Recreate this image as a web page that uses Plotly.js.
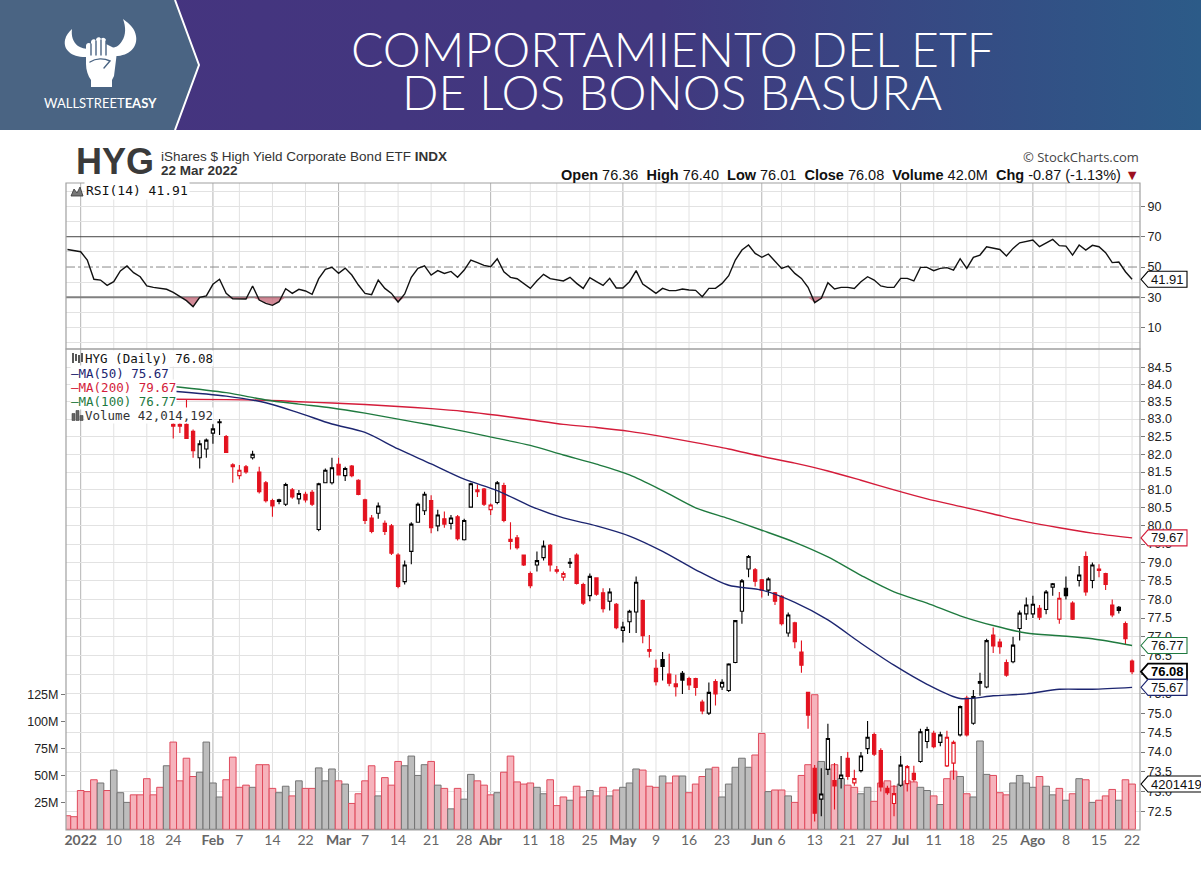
<!DOCTYPE html>
<html>
<head>
<meta charset="utf-8">
<script src="https://cdn.plot.ly/plotly-3.0.1.min.js"></script>
<style>
html,body{margin:0;padding:0;background:#fff;}
#wrap{position:relative;width:1201px;height:872px;overflow:hidden;background:#fff;}
#banner{position:absolute;left:0;top:0;z-index:0;}
#chart{position:absolute;left:0;top:0;width:1201px;height:872px;z-index:1;}
</style>
</head>
<body>
<div id="wrap">
<svg id="banner" width="1201" height="130" viewBox="0 0 1201 130">
  <defs>
    <linearGradient id="bg" x1="0" x2="1" y1="0" y2="0">
      <stop offset="0" stop-color="#46337f"/>
      <stop offset="0.55" stop-color="#41387f"/>
      <stop offset="1" stop-color="#2c5b88"/>
    </linearGradient>
  </defs>
  <rect x="0" y="0" width="1201" height="130" fill="url(#bg)"/>
  <path d="M0,0 L175,0 L199,65 L175,130 L0,130 Z" fill="#4a6483"/>
  <path d="M175,0 L199,65 L175,130" fill="none" stroke="#ffffff" stroke-width="2"/>
  <g fill="#ffffff">
    <path d="M88,57 C72,58 63,50 65,40 C66,35 69,32 72,29 C71,36 73,42 78,46 C81,48 85,49 89,49 Z"/>
    <path d="M113,56 C129,57 138,47 136,36 C135,29 130,24 123,19 C126,27 126,35 122,41 C119,46 115,48 111,48 Z"/>
    <path d="M86,52 L86,46 C86,43 89,42 91,44 L91,42 C91,39 95,38 96,41 L96,40 C96,37 100,36 101,39 L101,40 C101,37 105,37 106,40 L106,44 L114,48 C117,50 117,54 116,60 L114,76 L112,80 L112,87 L91,87 L91,80 C88,76 86,70 86,64 Z"/>
  </g>
  <g stroke="#4a6483" stroke-width="1.4" fill="none" stroke-linecap="round">
    <path d="M91,44 L91,55 M96,41 L96,55 M101,40 L101,55 M106,41 L106,55"/>
    <path d="M90,62 C96,58 104,58 110,61 L104,68"/>
  </g>
</svg>
<div id="chart"></div>
</div>
<script>
// ---------------- DATA ----------------
// trading-day index: 0 = 3 Jan 2022; volume & RSI start at index -2 (30 Dec 2021)
const volM = [
  12.6, 11.7, 36, 35, 46, 43, 36, 55, 34, 25,
  32, 32, 47, 32, 39, 59, 81, 45, 66, 49,
  53, 81, 43, 30, 46, 67, 39, 41, 39, 60,
  60, 38, 34, 40, 31, 45, 38, 38, 57, 45,
  56, 45, 42, 24, 33, 45, 59, 31, 48, 41,
  63, 59, 68, 50, 60, 63, 41, 38, 19, 38,
  28, 51, 45, 41, 32, 34, 53, 68, 44, 42,
  43, 39, 33, 46, 22, 30, 27, 40, 30, 36,
  31, 39, 31, 36.5, 39, 43, 56, 55, 40, 39,
  49.5, 43, 49.5, 49.5, 34, 42, 49, 56, 57.6, 30,
  42, 57.6, 66, 57.6, 69, 89, 35, 36.5, 36.5, 31,
  25, 50, 60, 125, 63, 56, 60, 47, 41, 39,
  33, 39, 26, 43, 45, 40, 42, 45, 44, 39,
  36, 31, 23, 47, 54, 49, 33, 30, 82, 51,
  50, 34, 32, 43, 50, 43, 39, 49, 40, 32,
  38, 27, 33, 47, 46, 25, 27, 31, 37, 27,
  46, 42.014192
];
// d = close below previous close (red), u = otherwise (black/gray)
const volDir = "ddddduduuudddddu" +
  "dddduuuudd" + "dduddduudu" + "dduuududdd" + "duddduuuud" + "ududuudddu" +
  "ddddduuddd" + "uddudduduu" + "uddduddudd" + "duduuuuudd" + "uddudddduu" +
  "dudduudddd" + "udduududdu" + "duuuddduuu" + "uduudududu" + "dddudd";

const rsi14 = [
  61.6, 60.8, 60.1, 54.6, 41.9, 41.4, 37.9, 40.3, 47.4, 50.7,
  46.3, 43.6, 37.5, 36.6, 35.7, 35.3, 33.3, 30.4, 27.8, 23.8,
  30, 30.9, 38.6, 41.9, 32.6, 29.1, 29.1, 28.9, 37.5, 28.2,
  26, 24.7, 27.1, 35.7, 32.6, 35.3, 34.2, 32, 42.3, 48.5,
  49.8, 45.8, 49.3, 44.7, 38.1, 32.6, 31.8, 41.4, 35.9, 32.6,
  26.9, 32.2, 43.2, 49.1, 50.7, 44.7, 47.6, 45.8, 47.1, 43.2,
  48, 54.6, 52.9, 51.1, 50.2, 55.5, 46.9, 43.2, 42.3, 38.8,
  35.9, 40.9, 45.2, 42.3, 41.4, 40.8, 43.2, 39.2, 35.9, 43,
  40.3, 37.9, 42.5, 36.2, 36.2, 40.3, 47.6, 38.8, 35.7, 32.6,
  35.9, 34.4, 34.4, 35.5, 34.8, 34.6, 30.4, 35.9, 35.9, 39.2,
  44.3, 54.6, 61.2, 64.5, 59, 56.4, 58.6, 53.5, 49.1, 50.7,
  45.8, 42.5, 36.6, 26.5, 29.3, 39.7, 35.5, 36.6, 36.6, 35.9,
  40.3, 43.6, 41.4, 37.5, 36.6, 36.6, 42.5, 42.5, 40.8, 49.8,
  49.8, 47.6, 49.1, 49.6, 48, 55.5, 49.1, 56.4, 57.9, 63.4,
  62.3, 61.6, 57.3, 62.3, 66, 67.1, 67.8, 63.4, 66, 68.2,
  64.1, 63.8, 57.9, 64.5, 61.2, 64.3, 63.4, 59.5, 52.9, 53.3,
  46.9, 41.91
];

// candles visible from index 14 (24 Jan 2022)
const candleStart = 14;
const openP = [
  82.85, 82.85, 82.85, 82.65, 81.9, 82.15, 82.6, 82.9, 82.5, 81.7,
  81.4, 81.65, 81.9, 81.5, 81.2, 80.7, 80.72, 80.6, 81.0, 80.75,
  80.88, 80.93, 79.9, 81.2, 81.2, 81.72, 81.4, 81.67, 81.27, 80.72,
  80.22, 80.35, 80.07, 80.0, 79.2, 78.48, 79.3, 80.1, 80.42, 80.7,
  80.0, 80.2, 80.07, 80.25, 79.62, 80.52, 81.0, 81.02, 80.45, 80.65,
  81.12, 79.63, 79.67, 79.2, 78.7, 78.93, 79.13, 79.47, 78.8, 78.6,
  79.0, 79.2, 78.4, 78.1, 78.58, 78.18, 77.95, 77.87, 77.17, 77.4,
  77.66, 77.97, 76.66, 76.17, 76.4, 76.02, 75.76, 76.04, 75.9, 75.9,
  75.29, 75.0, 75.82, 75.68, 75.59, 76.32, 77.68, 78.82, 78.8, 78.53,
  78.25, 78.18, 78.08, 77.1, 77.37, 76.6, 75.54, 73.59, 72.81, 73.56,
  73.28, 73.33, 73.84, 73.22, 73.53, 74.09, 74.45, 74.04, 73.08, 72.7,
  73.16, 73.2, 73.46, 73.76, 74.27, 74.48, 74.25, 73.65, 73.72, 74.44,
  75.39, 74.74, 75.82, 75.68, 77.05, 76.86, 76.32, 76.34, 77.22, 77.61,
  77.61, 77.76, 77.73, 78.33, 77.47, 78.3, 77.9, 78.51, 79.16, 78.51,
  78.82, 78.7, 77.85, 77.79, 77.35, 76.36
];
const highP = [
  82.9, 82.9, 83.55, 82.7, 82.4, 82.45, 82.85, 83.0, 82.55, 81.75,
  81.7, 81.7, 82.1, 81.65, 81.25, 80.75, 80.75, 81.2, 81.05, 81.0,
  80.95, 81.0, 81.2, 81.6, 81.9, 81.9, 81.65, 81.7, 81.3, 80.75,
  80.3, 80.65, 80.15, 80.05, 79.25, 79.05, 80.1, 80.65, 80.95, 80.85,
  80.45, 80.4, 80.3, 80.3, 80.2, 81.2, 81.15, 81.05, 80.62, 81.25,
  81.2, 80.1, 79.75, 79.2, 78.75, 79.3, 79.6, 79.5, 78.9, 78.75,
  79.12, 79.25, 78.45, 78.7, 78.6, 78.3, 78.3, 77.9, 77.4, 77.72,
  78.62, 78.0, 77.05, 76.4, 76.6, 76.55, 76.0, 76.1, 75.95, 75.92,
  75.35, 75.8, 75.88, 75.88, 76.3, 77.45, 78.55, 79.2, 78.85, 78.55,
  78.6, 78.2, 78.12, 77.65, 77.4, 76.9, 75.55, 73.67, 73.59, 74.73,
  73.72, 73.9, 74.0, 73.55, 74.0, 74.8, 74.5, 74.1, 73.15, 73.16,
  73.9, 73.67, 73.65, 74.6, 74.65, 74.55, 74.52, 74.55, 74.3, 75.2,
  75.45, 75.6, 76.05, 76.95, 77.25, 76.95, 76.4, 77.0, 77.7, 78.05,
  78.1, 77.85, 78.25, 78.44, 78.2, 78.62, 77.95, 78.9, 79.3, 79.0,
  78.95, 78.72, 78.0, 77.82, 77.41, 76.40
];
const lowP = [
  82.45, 82.6, 82.45, 81.9, 81.6, 81.9, 82.3, 82.55, 82.05, 81.2,
  81.3, 81.45, 81.85, 80.9, 80.65, 80.25, 80.6, 80.55, 80.75, 80.6,
  80.65, 80.55, 79.85, 81.2, 81.15, 81.4, 81.25, 81.35, 80.85, 80.05,
  79.8, 80.2, 79.75, 79.2, 78.3, 78.4, 78.95, 80.1, 80.3, 79.8,
  79.85, 79.95, 79.9, 79.6, 79.6, 80.5, 80.8, 80.55, 80.3, 80.6,
  80.1, 79.35, 79.35, 78.9, 78.3, 78.75, 79.05, 78.75, 78.7, 78.5,
  78.85, 78.4, 77.85, 77.95, 78.1, 77.65, 77.7, 77.2, 76.85, 77.1,
  77.1, 76.83, 76.45, 75.72, 75.85, 75.7, 75.43, 75.5, 75.6, 75.45,
  74.97, 74.95, 75.2, 75.6, 75.55, 76.3, 77.35, 78.6, 78.35, 78.05,
  78.1, 77.85, 77.3, 77.0, 76.7, 76.05, 74.6, 72.25, 72.38, 73.42,
  72.55, 73.08, 73.3, 73.15, 73.48, 73.95, 73.9, 73.0, 72.92, 72.38,
  73.12, 73.0, 73.25, 73.73, 74.1, 74.1, 74.15, 73.62, 73.3, 74.4,
  74.4, 74.7, 75.45, 75.65, 76.57, 76.55, 75.95, 76.3, 76.9, 77.45,
  77.5, 77.45, 77.6, 78.1, 77.35, 78.0, 77.45, 78.35, 78.1, 78.3,
  78.6, 78.25, 77.52, 77.62, 76.8, 76.01
];
const closeP = [
  82.8, 82.8, 82.45, 82.1, 82.3, 82.4, 82.72, 82.92, 82.05, 81.65,
  81.55, 81.5, 82.0, 80.95, 80.7, 80.55, 80.68, 81.15, 80.8, 80.9,
  80.72, 80.6, 81.17, 81.55, 81.62, 81.42, 81.6, 81.4, 80.87, 80.15,
  79.85, 80.55, 79.85, 79.25, 78.35, 78.93, 80.05, 80.6, 80.88, 79.95,
  80.3, 80.05, 80.22, 79.65, 80.15, 81.17, 80.95, 80.6, 80.58, 81.2,
  80.15, 79.57, 79.4, 78.93, 78.37, 79.05, 79.45, 78.93, 78.76, 78.7,
  78.98, 78.43, 77.9, 78.62, 78.14, 77.75, 78.2, 77.24, 77.26, 77.68,
  78.46, 77.03, 76.62, 75.82, 76.22, 75.78, 75.69, 75.86, 75.73, 75.67,
  75.06, 75.54, 75.5, 75.8, 76.28, 77.43, 78.5, 79.16, 78.49, 78.25,
  78.55, 77.95, 77.35, 77.58, 76.87, 76.25, 74.95, 72.46, 72.94, 74.35,
  73.14, 73.42, 73.38, 73.33, 73.9, 74.38, 73.95, 73.12, 72.97, 72.95,
  73.67, 73.63, 73.3, 74.52, 74.58, 74.14, 74.44, 74.38, 74.25, 75.17,
  74.44, 75.43, 75.78, 76.9, 76.76, 76.74, 75.99, 76.78, 77.63, 77.85,
  77.87, 77.52, 78.2, 78.42, 78.03, 78.1, 77.47, 78.66, 78.2, 78.93,
  78.78, 78.4, 77.58, 77.7, 76.95, 76.08
];

// moving averages read at sample days
const maIdx = [14, 22, 28, 33, 38, 43, 48, 53, 58, 63, 68, 73, 78, 83, 88, 93, 98, 103, 108, 113, 118, 123, 128, 133, 138, 143, 148, 153, 159];
const ma200 = [83.57, 83.56, 83.54, 83.5, 83.46, 83.42, 83.36, 83.3, 83.22, 83.11, 82.98, 82.85, 82.76, 82.65, 82.5, 82.33, 82.15, 81.94, 81.75, 81.53, 81.27, 81.0, 80.75, 80.54, 80.33, 80.12, 79.95, 79.8, 79.67];
const ma100 = [83.94, 83.76, 83.55, 83.43, 83.32, 83.17, 83.0, 82.83, 82.65, 82.45, 82.25, 81.98, 81.72, 81.42, 80.98, 80.5, 80.2, 79.88, 79.55, 79.15, 78.65, 78.2, 77.9, 77.56, 77.3, 77.1, 77.03, 76.95, 76.77];
const ma50  = [83.8, 83.66, 83.47, 83.18, 82.86, 82.62, 82.15, 81.73, 81.3, 80.98, 80.55, 80.22, 80.0, 79.72, 79.3, 78.8, 78.38, 78.25, 77.92, 77.45, 76.83, 76.25, 75.75, 75.38, 75.45, 75.5, 75.62, 75.62, 75.67];

// axis ticks
const tickIdx = [0, 5, 10, 14, 20, 24, 29, 34, 39, 43, 48, 53, 58, 62, 68, 72, 77, 82, 87, 92, 97, 103, 106, 111, 116, 120, 124, 129, 134, 139, 144, 149, 154, 159];
const tickLbl = ['2022', '10', '18', '24', 'Feb', '7', '14', '22', 'Mar', '7', '14', '21', '28', 'Abr', '11', '18', '25', 'May', '9', '16', '23', 'Jun', '6', '13', '21', '27', 'Jul', '11', '18', '25', 'Ago', '8', '15', '22'];
const monthIdx = [0, 20, 39, 62, 82, 103, 124, 144];
const boldLbl = ['2022', 'Feb', 'Mar', 'Abr', 'May', 'Jun', 'Jul', 'Ago'];
const priceTicks = [72.5, 73, 73.5, 74, 74.5, 75, 75.5, 76, 76.5, 77, 77.5, 78, 78.5, 79, 79.5, 80, 80.5, 81, 81.5, 82, 82.5, 83, 83.5, 84, 84.5];
const volTicks = [25, 50, 75, 100, 125];
const rsiTicks = [10, 30, 50, 70, 90];
const rsiMinor = [0, 10, 20, 40, 60, 80, 90, 100];

// ---------------- LAYOUT HELPERS ----------------
const W = 1201, H = 872, ML = 66, MR = 61, MT = 183, MB = 42;
const PW = W - ML - MR, PH = H - MT - MB;
const px = x => (x - ML) / PW;
const py = y => (H - MB - y) / PH;
const splitY = py(349);

const RED = '#e3121f', NAVY = '#1c2570', CRIM = '#d41c3a', GREEN = '#1f7a3f';

const days = volM.map((_, k) => k - 2);
const dirOf = d => volDir[d + 2];
const cDays = closeP.map((_, k) => k + candleStart);
const last = closeP.length - 1;

function candleSubset(flag) {
  const ks = cDays.map((d, k) => k).filter(k => dirOf(cDays[k]) === flag);
  return {
    x: ks.map(k => cDays[k]), open: ks.map(k => openP[k]), high: ks.map(k => highP[k]),
    low: ks.map(k => lowP[k]), close: ks.map(k => closeP[k])
  };
}
const up = candleSubset('u'), dn = candleSubset('d');

const traces = [
  { type: 'bar', x: days, y: volM.map(v => v * 1e6), xaxis: 'x', yaxis: 'y', width: 1,
    marker: { color: days.map(d => dirOf(d) === 'd' ? '#f6b3bc' : '#bdbdbd'),
              line: { color: days.map(d => dirOf(d) === 'd' ? '#df4a5c' : '#737373'), width: 1 } },
    hoverinfo: 'skip' },
  { type: 'scatter', mode: 'lines', x: maIdx, y: ma200, xaxis: 'x', yaxis: 'y2',
    line: { color: CRIM, width: 1.4, shape: 'spline', smoothing: 0.8 }, hoverinfo: 'skip' },
  { type: 'scatter', mode: 'lines', x: maIdx, y: ma100, xaxis: 'x', yaxis: 'y2',
    line: { color: GREEN, width: 1.4, shape: 'spline', smoothing: 0.8 }, hoverinfo: 'skip' },
  { type: 'scatter', mode: 'lines', x: maIdx, y: ma50, xaxis: 'x', yaxis: 'y2',
    line: { color: NAVY, width: 1.4, shape: 'spline', smoothing: 0.8 }, hoverinfo: 'skip' },
  Object.assign({ type: 'candlestick', xaxis: 'x', yaxis: 'y2', hoverinfo: 'none', whiskerwidth: 0,
    increasing: { line: { color: '#000', width: 1.1 }, fillcolor: '#ffffff' },
    decreasing: { line: { color: '#000', width: 1.1 }, fillcolor: '#000000' } }, up),
  Object.assign({ type: 'candlestick', xaxis: 'x', yaxis: 'y2', hoverinfo: 'none', whiskerwidth: 0,
    increasing: { line: { color: RED, width: 1.1 }, fillcolor: '#ffffff' },
    decreasing: { line: { color: RED, width: 1.1 }, fillcolor: RED } }, dn),
  { type: 'scatter', mode: 'lines', x: days, y: rsi14.map(() => 30), xaxis: 'x', yaxis: 'y3',
    line: { width: 0, color: 'rgba(0,0,0,0)' }, hoverinfo: 'skip' },
  { type: 'scatter', mode: 'lines', x: days, y: rsi14.map(v => Math.min(v, 30)), xaxis: 'x', yaxis: 'y3',
    fill: 'tonexty', fillcolor: 'rgba(196,100,118,0.75)', line: { width: 0, color: 'rgba(0,0,0,0)' }, hoverinfo: 'skip' },
  { type: 'scatter', mode: 'lines', x: days, y: rsi14, xaxis: 'x', yaxis: 'y3',
    line: { color: '#111', width: 1.4 }, hoverinfo: 'skip' }
];

// ---------------- SHAPES ----------------
const shapes = [];
tickIdx.forEach(t => {
  shapes.push({ type: 'line', xref: 'x', yref: 'paper', x0: t, x1: t, y0: 0, y1: 1, layer: 'below',
    line: { color: monthIdx.includes(t) ? '#b4b4b4' : '#e2e2e2', width: 1 } });
});
shapes.push({ type: 'line', xref: 'paper', yref: 'y3', x0: 0, x1: 1, y0: 70, y1: 70, layer: 'below', line: { color: '#444', width: 1 } });
shapes.push({ type: 'line', xref: 'paper', yref: 'y3', x0: 0, x1: 1, y0: 30, y1: 30, layer: 'below', line: { color: '#808080', width: 2 } });
shapes.push({ type: 'line', xref: 'paper', yref: 'y3', x0: 0, x1: 1, y0: 50, y1: 50, layer: 'below', line: { color: '#8a8a8a', width: 1, dash: 'dashdot' } });
shapes.push({ type: 'rect', xref: 'paper', yref: 'paper', x0: 0, x1: 1, y0: splitY, y1: 1, layer: 'above', line: { color: '#a0a0a0', width: 1.2 }, fillcolor: 'rgba(0,0,0,0)' });
shapes.push({ type: 'rect', xref: 'paper', yref: 'paper', x0: 0, x1: 1, y0: 0, y1: splitY, layer: 'above', line: { color: '#a0a0a0', width: 1.2 }, fillcolor: 'rgba(0,0,0,0)' });

// ---------------- ANNOTATIONS ----------------
const NB = '\u00A0';
const ann = [];
const F = (size, color, family, weight) => ({ size, color, family: family || 'Liberation Sans, Arial, sans-serif', weight: weight || 'normal' });
const MONO = 'DejaVu Sans Mono, Liberation Mono, monospace';

ann.push({ xref: 'paper', yref: 'paper', x: px(672), y: py(48), text: 'COMPORTAMIENTO DEL ETF', showarrow: false,
  xanchor: 'center', yanchor: 'middle', font: F(48, '#ffffff', 'Lato, sans-serif', 300) });
ann.push({ xref: 'paper', yref: 'paper', x: px(672), y: py(92), text: 'DE LOS BONOS BASURA', showarrow: false,
  xanchor: 'center', yanchor: 'middle', font: F(48, '#ffffff', 'Lato, sans-serif', 300) });
ann.push({ xref: 'paper', yref: 'paper', x: px(100), y: py(103), text: 'WALLSTREET<b>EASY</b>', showarrow: false,
  xanchor: 'center', yanchor: 'middle', font: F(13, '#ffffff', 'Lato, sans-serif') });

ann.push({ xref: 'paper', yref: 'paper', x: px(74), y: py(161), text: 'HYG', showarrow: false,
  xanchor: 'left', yanchor: 'middle', font: F(36, '#3a3a3a', 'Liberation Sans, Arial, sans-serif', 'bold') });
ann.push({ xref: 'paper', yref: 'paper', x: px(159), y: py(157), text: 'iShares $ High Yield Corporate Bond ETF <b>INDX</b>', showarrow: false,
  xanchor: 'left', yanchor: 'middle', font: F(13.5, '#333') });
ann.push({ xref: 'paper', yref: 'paper', x: px(159), y: py(171), text: '<b>22 Mar 2022</b>', showarrow: false,
  xanchor: 'left', yanchor: 'middle', font: F(13.5, '#333') });
ann.push({ xref: 'paper', yref: 'paper', x: px(1141), y: py(157), text: '© StockCharts.com', showarrow: false,
  xanchor: 'right', yanchor: 'middle', font: F(13, '#444', 'Open Sans, sans-serif') });

const chg = closeP[last] - closeP[last - 1];
const pct = chg / closeP[last - 1] * 100;
const hdr = '<b>Open</b> ' + openP[last].toFixed(2) + NB + NB + '<b>High</b> ' + highP[last].toFixed(2) + NB + NB +
  '<b>Low</b> ' + lowP[last].toFixed(2) + NB + NB + '<b>Close</b> ' + closeP[last].toFixed(2) + NB + NB +
  '<b>Volume</b> ' + volM[volM.length - 1].toFixed(1) + 'M' + NB + NB + '<b>Chg</b> ' + chg.toFixed(2) +
  ' (' + pct.toFixed(2) + '%) <span style="color:#9c1020">▼</span>';
ann.push({ xref: 'paper', yref: 'paper', x: px(1141), y: py(174.5), text: hdr, showarrow: false,
  xanchor: 'right', yanchor: 'middle', font: F(14.5, '#111') });

ann.push({ xref: 'paper', yref: 'paper', x: px(84), y: py(191), text: 'RSI(14) ' + rsi14[rsi14.length - 1].toFixed(2), showarrow: false,
  xanchor: 'left', yanchor: 'middle', font: F(13, '#111', MONO), bgcolor: '#ffffff' });

const legRows = [
  { t: 'HYG (Daily) ' + closeP[last].toFixed(2), c: '#111', y: 358, x: 84 },
  { t: '—MA(50) ' + ma50[ma50.length - 1].toFixed(2), c: NAVY, y: 373, x: 70 },
  { t: '—MA(200) ' + ma200[ma200.length - 1].toFixed(2), c: CRIM, y: 387, x: 70 },
  { t: '—MA(100) ' + ma100[ma100.length - 1].toFixed(2), c: GREEN, y: 401, x: 70 },
  { t: 'Volume ' + Math.round(volM[volM.length - 1] * 1e6).toLocaleString('en-US'), c: '#333', y: 415.5, x: 84 }
];
legRows.forEach(r => ann.push({ xref: 'paper', yref: 'paper', x: px(r.x), y: py(r.y), text: r.t, showarrow: false,
  xanchor: 'left', yanchor: 'middle', font: F(12.5, r.c, MONO), bgcolor: '#ffffff', borderpad: 0 }));

// small legend icons (non-text marks)
shapes.push({ type: 'path', xref: 'paper', yref: 'paper', xsizemode: 'pixel', ysizemode: 'pixel', xanchor: px(72), yanchor: py(358),
  path: 'M1,-5 L1,5 M4,-3 L4,4 M7,-5 L7,3 M10,-4 L10,5', line: { color: '#222', width: 1.5 }, layer: 'above' });
shapes.push({ type: 'path', xref: 'paper', yref: 'paper', xsizemode: 'pixel', ysizemode: 'pixel', xanchor: px(72), yanchor: py(415.5),
  path: 'M0,-5 L3,-5 L3,2 L0,2 Z M4,-5 L7,-5 L7,5 L4,5 Z M8,-5 L11,-5 L11,0 L8,0 Z', fillcolor: '#666', line: { color: '#444', width: 0.6 }, layer: 'above' });
shapes.push({ type: 'path', xref: 'paper', yref: 'paper', xsizemode: 'pixel', ysizemode: 'pixel', xanchor: px(71), yanchor: py(191),
  path: 'M0,-5 L3,2 L6,-2 L9,4 L12,-5 Z', fillcolor: '#777', line: { color: '#333', width: 0.8 }, layer: 'above' });

// right-side value tags
const tags = [
  { ref: 'y2', v: ma200[ma200.length - 1], c: CRIM, t: ma200[ma200.length - 1].toFixed(2), w: 46, b: false },
  { ref: 'y2', v: ma100[ma100.length - 1], c: GREEN, t: ma100[ma100.length - 1].toFixed(2), w: 46, b: false },
  { ref: 'y2', v: closeP[last], c: '#000', t: closeP[last].toFixed(2), w: 46, b: true },
  { ref: 'y2', v: ma50[ma50.length - 1], c: NAVY, t: ma50[ma50.length - 1].toFixed(2), w: 46, b: false },
  { ref: 'y', v: volM[volM.length - 1] * 1e6, c: '#000', t: String(Math.round(volM[volM.length - 1] * 1e6)), w: 72, b: false },
  { ref: 'y3', v: rsi14[rsi14.length - 1], c: '#000', t: rsi14[rsi14.length - 1].toFixed(2), w: 46, b: false }
];
tags.forEach(g => {
  shapes.push({ type: 'path', xref: 'paper', xsizemode: 'pixel', xanchor: px(1141), yref: g.ref, ysizemode: 'pixel', yanchor: g.v,
    path: 'M0,0 L7,8 L' + g.w + ',8 L' + g.w + ',-8 L7,-8 Z', fillcolor: '#ffffff', layer: 'above',
    line: { color: g.c, width: g.b ? 1.8 : 1.1 } });
  ann.push({ xref: 'paper', yref: g.ref, x: px(1149), y: g.ref === 'y2' ? Math.log10(g.v) : g.v, text: g.b ? '<b>' + g.t + '</b>' : g.t,
    showarrow: false, xanchor: 'left', yanchor: 'middle', font: F(13, g.b ? '#000' : '#111') });
});

const layout = {
  width: W, height: H,
  margin: { l: ML, r: MR, t: MT, b: MB, pad: 0 },
  paper_bgcolor: 'rgba(0,0,0,0)', plot_bgcolor: '#ffffff',
  showlegend: false, hovermode: false, dragmode: false, bargap: 0,
  xaxis: { range: [-2.22, 160.2], anchor: 'y', tickmode: 'array', tickvals: tickIdx,
    ticktext: tickLbl.map(l => boldLbl.includes(l) ? '<b>' + l + '</b>' : l),
    showgrid: false, zeroline: false, showline: false, ticks: '', rangeslider: { visible: false },
    tickfont: { family: 'Lato, sans-serif', size: 14, color: '#666' }, fixedrange: true },
  yaxis: { domain: [0, splitY], range: [-0.65e6, 446e6], side: 'left', anchor: 'x', tickmode: 'array',
    tickvals: volTicks.map(v => v * 1e6), ticktext: volTicks.map(v => v + 'M'),
    ticks: 'outside', ticklen: 4, tickcolor: '#777', showgrid: false, zeroline: false, showline: false,
    tickfont: F(12.5, '#222'), fixedrange: true },
  yaxis2: { overlaying: 'y', side: 'right', anchor: 'x', type: 'log', range: [Math.log10(72.04), Math.log10(85.03)],
    tickmode: 'array', tickvals: priceTicks, ticktext: priceTicks.map(v => v.toFixed(1)),
    ticks: 'outside', ticklen: 4, tickcolor: '#777', showgrid: true, gridcolor: '#e2e2e2', zeroline: false, showline: false,
    tickfont: F(12.5, '#222'), fixedrange: true },
  yaxis3: { domain: [splitY, 1], range: [-4.1, 105.45], side: 'right', anchor: 'x', tickmode: 'array', tickvals: rsiTicks,
    ticks: 'outside', ticklen: 4, tickcolor: '#777', showgrid: false, zeroline: false, showline: false,
    minor: { tickmode: 'array', tickvals: rsiMinor, showgrid: true, gridcolor: '#e2e2e2', ticks: '' },
    tickfont: F(12.5, '#222'), fixedrange: true },
  shapes: shapes,
  annotations: ann
};

Plotly.newPlot('chart', traces, layout, { staticPlot: true, displayModeBar: false });
</script>
</body>
</html>
